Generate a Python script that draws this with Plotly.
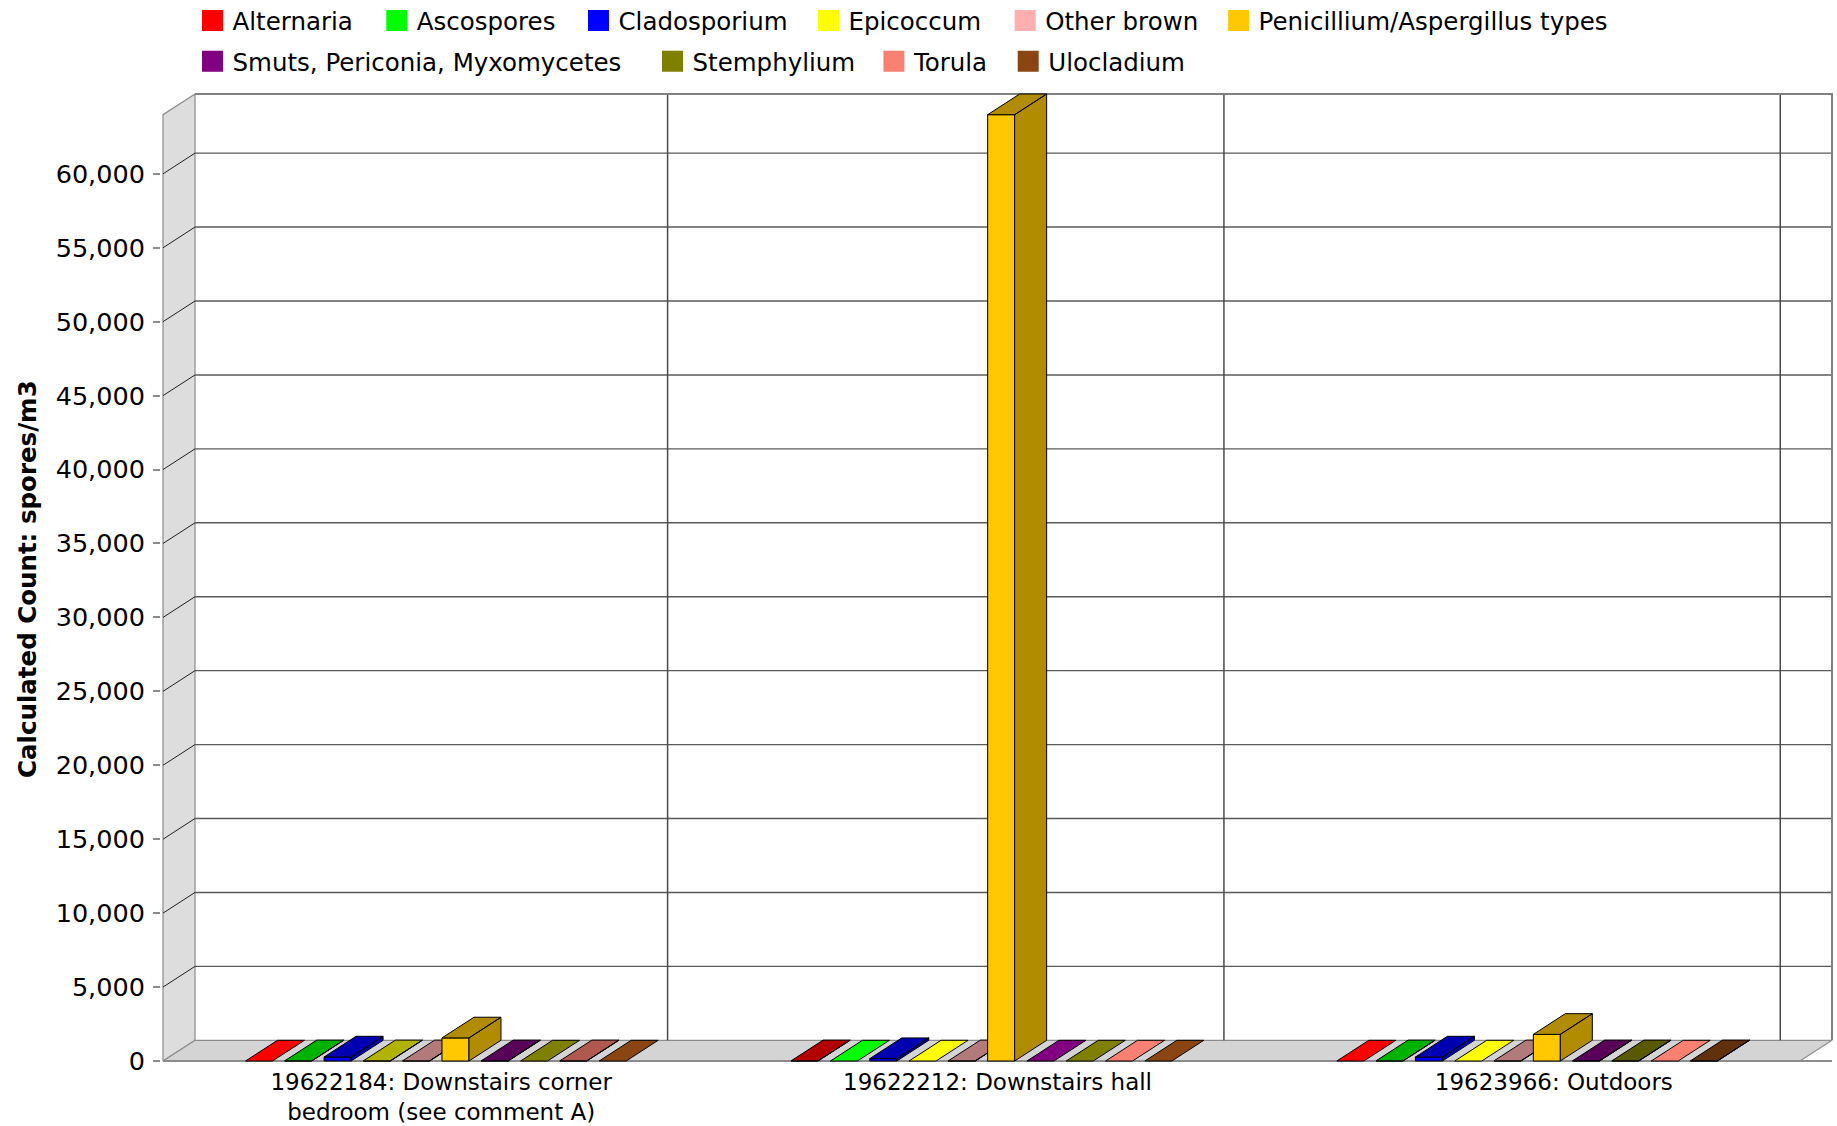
import plotly.graph_objects as go

# ---------------- data ----------------
categories = [
    "19622184: Downstairs corner<br>bedroom (see comment A)",
    "19622212: Downstairs hall",
    "19623966: Outdoors",
]
series_names = [
    "Alternaria", "Ascospores", "Cladosporium", "Epicoccum", "Other brown",
    "Penicillium/Aspergillus types", "Smuts, Periconia, Myxomycetes",
    "Stemphylium", "Torula", "Ulocladium",
]
alternaria = [0, 13, 0]
ascospores = [13, 0, 13]
cladosporium = [270, 160, 270]
epicoccum = [13, 0, 0]
other_brown = [13, 13, 13]
penicillium = [1560, 64000, 1800]
smuts = [13, 0, 13]
stemphylium = [0, 0, 13]
torula = [13, 0, 0]
ulocladium = [0, 0, 13]
y_tick_values = [0, 5000, 10000, 15000, 20000, 25000, 30000, 35000, 40000,
                 45000, 50000, 55000, 60000]
y_axis_title = "Calculated Count: spores/m3"

series_values = [alternaria, ascospores, cladosporium, epicoccum, other_brown,
                 penicillium, smuts, stemphylium, torula, ulocladium]
series_colors = ["#ff0000", "#00ff00", "#0000ff", "#ffff00", "#ffafaf",
                 "#ffc800", "#800080", "#808000", "#fa8072", "#8b4513"]

# ---------------- layout geometry ----------------
W, H = 1837, 1126
PX_PER_UNIT = 0.014786          # vertical pixels per spore/m3
BASE_PX = 1061                  # pixel row of the zero line (front)
M_L, M_R, M_T, M_B = 161, 3, 91, 62
DX = 32                         # 3-D depth, x (data units == px)
DY = 1400                       # 3-D depth, y (data units)
Y_FRONT_MAX = 64000
FRONT_W = 1637
N_CAT = len(categories)
GROUP_W = FRONT_W / N_CAT
BAR_W = 27
BAR_PITCH = 39.3
N_SER = len(series_names)
GROUP_PAD = (GROUP_W - ((N_SER - 1) * BAR_PITCH + BAR_W)) / 2
TOP = Y_FRONT_MAX + DY
X_RANGE = [-2, W - M_L - M_R - 2]
Y_RANGE = [-(H - M_B - BASE_PX) / PX_PER_UNIT, (BASE_PX - M_T) / PX_PER_UNIT]
FONT = "DejaVu Sans"


def darker(hexc):
    r, g, b = (int(hexc[i:i + 2], 16) for i in (1, 3, 5))
    return "#%02x%02x%02x" % (int(r * 0.7), int(g * 0.7), int(b * 0.7))


fig = go.Figure()


def add_poly(shapes, fill, line_color, line_width=1, closed=True):
    if not shapes:
        return
    xs, ys = [], []
    for pts in shapes:
        for x, y in pts:
            xs.append(x)
            ys.append(y)
        if closed:
            xs.append(pts[0][0])
            ys.append(pts[0][1])
        xs.append(None)
        ys.append(None)
    fig.add_trace(go.Scatter(
        x=xs, y=ys, mode="lines",
        fill="toself" if fill else None, fillcolor=fill,
        line=dict(color=line_color, width=line_width),
        hoverinfo="skip", showlegend=False))


# walls
add_poly([[(0, 0), (0, Y_FRONT_MAX), (DX, TOP), (DX, DY)]], "#dddddd", "#8c8c8c", 1.2)
add_poly([[(0, 0), (DX, DY), (FRONT_W + DX, DY), (FRONT_W, 0)]], "#d4d4d4", "#8c8c8c", 1.2)

# back-wall gridlines
add_poly([[(DX, v + DY), (FRONT_W + DX, v + DY)] for v in y_tick_values[1:]],
         None, "#5a5a5a", 1.4, closed=False)
# left-wall slanted gridlines
add_poly([[(0, v), (DX, v + DY)] for v in y_tick_values[1:]],
         None, "#202020", 1, closed=False)
# vertical category gridlines on back wall
grid_x = [(g + 0.907) * (FRONT_W + DX) / N_CAT for g in range(N_CAT)]
add_poly([[(gx, DY), (gx, TOP)] for gx in grid_x], None, "#4a4a4a", 1.5, closed=False)
# back wall border
add_poly([[(DX, TOP), (FRONT_W + DX, TOP), (FRONT_W + DX, DY)]], None, "#808080", 2, closed=False)
# bottom axis line
add_poly([[(0, 0), (FRONT_W + DX, 0)]], None, "#8c8c8c", 2, closed=False)

# bars
for s, (vals, col) in enumerate(zip(series_values, series_colors)):
    dk = darker(col)
    fronts, sides, tops_dark, tops_base = [], [], [], []
    for g, v in enumerate(vals):
        L = GROUP_PAD + g * GROUP_W + s * BAR_PITCH
        R = L + BAR_W
        top = [(L, v), (L + DX, v + DY), (R + DX, v + DY), (R, v)]
        if v > 0:
            fronts.append([(L, 0), (L, v), (R, v), (R, 0)])
            sides.append([(R, 0), (R, v), (R + DX, v + DY), (R + DX, DY)])
            tops_dark.append(top)
        else:
            tops_base.append(top)
    add_poly(fronts, col, "#000000", 1)
    add_poly(sides + tops_dark, dk, "#000000", 1)
    add_poly(tops_base, col, "#000000", 1)

# legends (one per entry)
legend_pos = [  # swatch centre in px (x, y)
    (212.5, 20.5), (396.8, 20.5), (598.5, 20.5), (828.5, 20.5), (1025.2, 20.5), (1238.6, 20.5),
    (212.5, 61.3), (672.5, 61.3), (893.9, 61.3), (1028.2, 61.3),
]
SYM_OFF = 20
plot_w = W - M_L - M_R
plot_h = H - M_T - M_B
legend_layout = {}
for i, (name, col) in enumerate(zip(series_names, series_colors)):
    key = "legend" if i == 0 else "legend%d" % (i + 1)
    fig.add_trace(go.Scatter(
        x=[None], y=[None], mode="markers", name=name,
        marker=dict(symbol="square", size=16, color=col, line=dict(color=col, width=5)),
        legend=key, showlegend=True, hoverinfo="skip"))
    px, py = legend_pos[i]
    legend_layout[key] = dict(
        x=(px - SYM_OFF - M_L) / plot_w, xanchor="left",
        y=(H - M_B - py) / plot_h, yanchor="middle",
        bgcolor="rgba(0,0,0,0)", borderwidth=0,
        font=dict(family=FONT, size=24.5, color="#000000"),
        orientation="h")

fig.update_layout(
    width=W, height=H, autosize=False,
    margin=dict(l=M_L, r=M_R, t=M_T, b=M_B, pad=0, autoexpand=False),
    paper_bgcolor="#ffffff", plot_bgcolor="#ffffff",
    xaxis=dict(range=X_RANGE, showgrid=False, zeroline=False, showline=False,
               tickmode="array",
               tickvals=[(g + 0.5) * (FRONT_W + DX) / N_CAT for g in range(N_CAT)],
               ticktext=categories, ticks="", ticklabelstandoff=2,
               tickfont=dict(family=FONT, size=23, color="#000000"),
               automargin=False, fixedrange=True),
    yaxis=dict(range=Y_RANGE, showgrid=False, zeroline=False, showline=False,
               tickmode="array", tickvals=y_tick_values, tickformat=",",
               ticks="outside", ticklen=7, tickwidth=2, tickcolor="#8c8c8c",
               ticklabelstandoff=3,
               tickfont=dict(family=FONT, size=25.5, color="#000000"),
               automargin=False, fixedrange=True),
    annotations=[dict(
        text="<b>%s</b>" % y_axis_title, textangle=-90,
        xref="paper", yref="paper",
        x=(27 - M_L) / plot_w, y=(H - M_B - 579) / plot_h,
        xanchor="center", yanchor="middle", showarrow=False,
        font=dict(family=FONT, size=24.5, color="#000000"))],
    showlegend=True,
    **legend_layout,
)

fig.write_html("out.html")
